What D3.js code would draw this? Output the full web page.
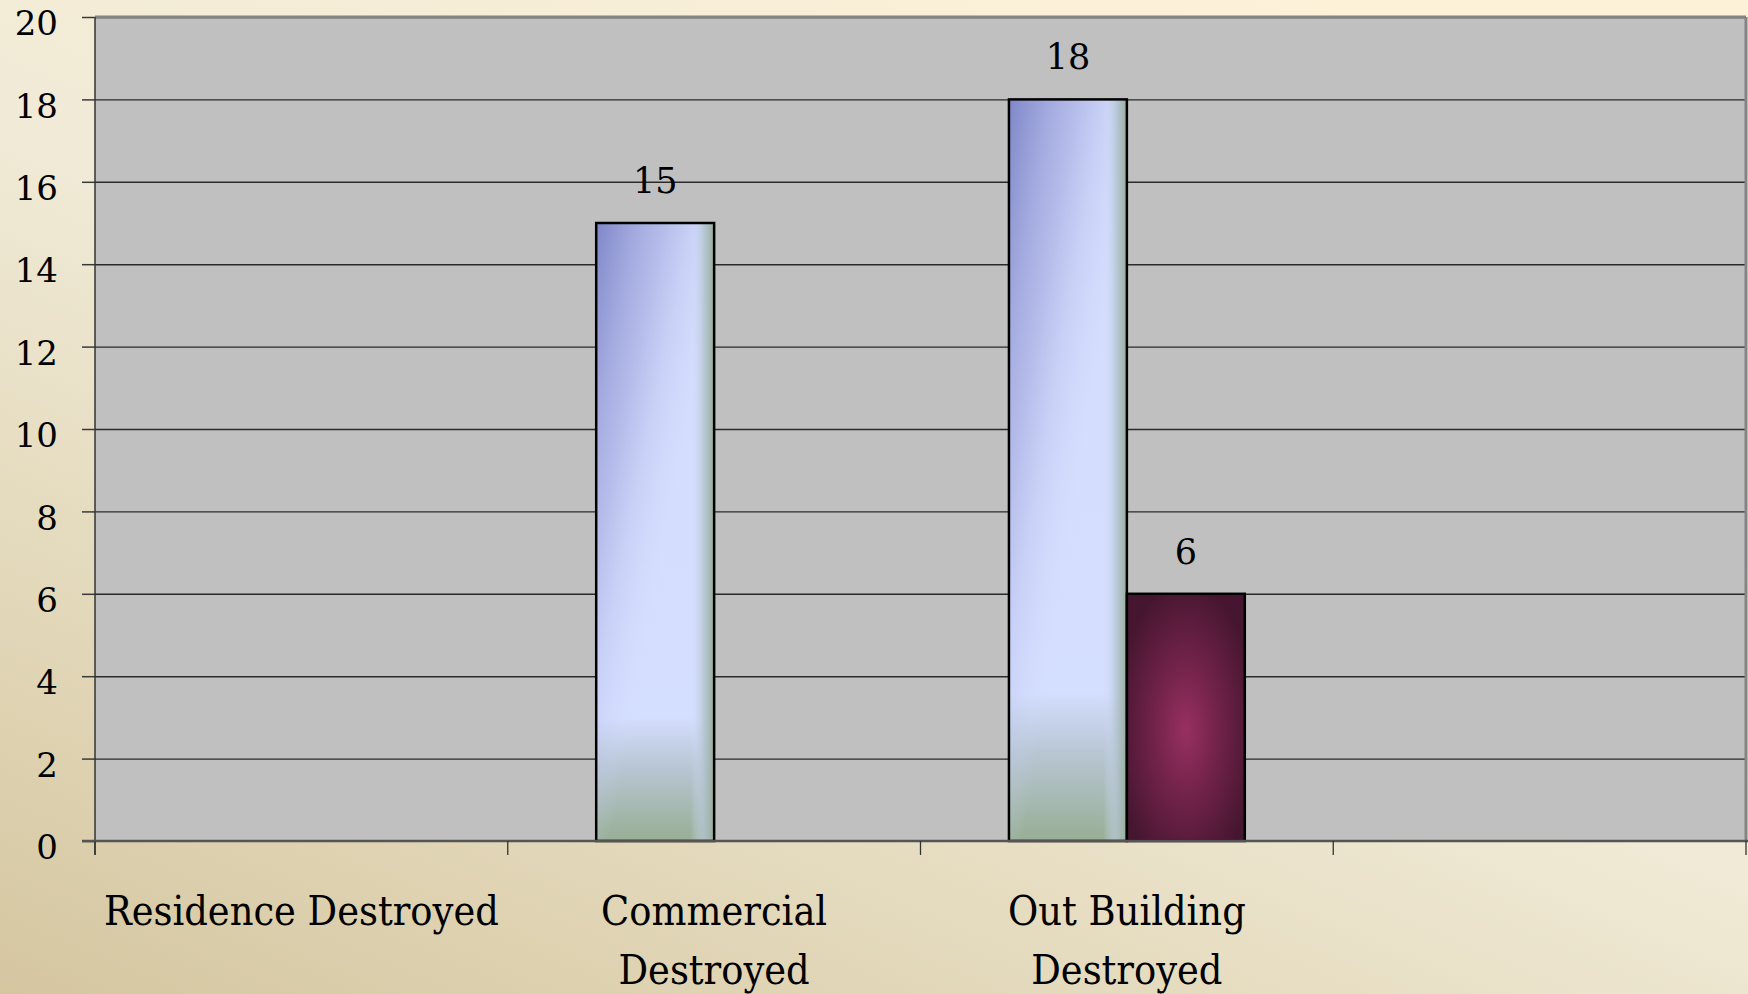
<!DOCTYPE html>
<html>
<head>
<meta charset="utf-8">
<script src="https://cdn.jsdelivr.net/npm/d3@7"></script>
<style>
  body { margin: 0; padding: 0; overflow: hidden; }
  svg { display: block; }
  .cat-label { font-family: "DejaVu Serif"; font-stretch: condensed; font-size: 41px; fill: #000; }
  .y-label { font-family: "DejaVu Serif"; font-size: 34px; fill: #000; }
  .val-label { font-family: "DejaVu Serif"; font-size: 35px; fill: #000; }
</style>
</head>
<body>
<div id="chart"></div>
<script>
(function(){

// Data

let categories = ['Residence Destroyed', 'Commercial Destroyed', 'Out Building Destroyed', '']
let seriesNames = ['Series 1', 'Series 2']
let series1 = [null, 15, 18, null]
let series2 = [null, null, 6, null]
let yTicks = [0, 2, 4, 6, 8, 10, 12, 14, 16, 18, 20]

let margin = { top: 17, left: 95, right: 2, bottom: 153 }
let totalWidth = 1748
let totalHeight = 994
let width = totalWidth - margin.left - margin.right
let height = totalHeight - margin.top - margin.bottom

let svg = d3.select('#chart')
  .append('svg')
  .attr('width', totalWidth)
  .attr('height', totalHeight)

let defs = svg.append('defs')

// Background gradient: dark tan in bottom-left, pale cream top-right
let bg = defs.append('linearGradient')
  .attr('id', 'bg')
  .attr('x1', 0).attr('y1', 1).attr('x2', 0.75).attr('y2', 0)
bg.append('stop').attr('offset', '0%').attr('stop-color', '#d5c6a0')
bg.append('stop').attr('offset', '30%').attr('stop-color', '#e4dabd')
bg.append('stop').attr('offset', '55%').attr('stop-color', '#f0ead6')
bg.append('stop').attr('offset', '100%').attr('stop-color', '#fdf1d8')

// Blue bar: light body, green fade at the bottom
let blueBase = defs.append('linearGradient')
  .attr('id', 'blueBase')
  .attr('x1', 0).attr('y1', 0).attr('x2', 0).attr('y2', 1)
blueBase.append('stop').attr('offset', '0%').attr('stop-color', '#d4ddfd')
blueBase.append('stop').attr('offset', '80%').attr('stop-color', '#d4defe')
blueBase.append('stop').attr('offset', '88%').attr('stop-color', '#b8c6d4')
blueBase.append('stop').attr('offset', '100%').attr('stop-color', '#98ae94')

// darker violet in top-left corner
let blueShade = defs.append('linearGradient')
  .attr('id', 'blueShade')
  .attr('x1', 0).attr('y1', 0).attr('x2', 0.55).attr('y2', 0.6)
blueShade.append('stop').attr('offset', '0%').attr('stop-color', '#7e86c8').attr('stop-opacity', 1)
blueShade.append('stop').attr('offset', '50%').attr('stop-color', '#a4aae0').attr('stop-opacity', 0.6)
blueShade.append('stop').attr('offset', '100%').attr('stop-color', '#d4defe').attr('stop-opacity', 0)

// greenish right edge
let blueEdge = defs.append('linearGradient')
  .attr('id', 'blueEdge')
  .attr('x1', 0).attr('y1', 0).attr('x2', 1).attr('y2', 0)
blueEdge.append('stop').attr('offset', '0%').attr('stop-color', '#d4defe').attr('stop-opacity', 0)
blueEdge.append('stop').attr('offset', '80%').attr('stop-color', '#d4defe').attr('stop-opacity', 0)
blueEdge.append('stop').attr('offset', '91%').attr('stop-color', '#b4c4d0').attr('stop-opacity', 0.8)
blueEdge.append('stop').attr('offset', '100%').attr('stop-color', '#96ac98').attr('stop-opacity', 1)

// Maroon bar: glowing centre
let maroon = defs.append('radialGradient')
  .attr('id', 'maroon')
  .attr('cx', 0.5).attr('cy', 0.55).attr('r', 0.6)
maroon.append('stop').attr('offset', '0%').attr('stop-color', '#983062')
maroon.append('stop').attr('offset', '40%').attr('stop-color', '#76244c')
maroon.append('stop').attr('offset', '100%').attr('stop-color', '#461630')

svg.append('rect')
  .attr('width', totalWidth)
  .attr('height', totalHeight)
  .attr('fill', 'url(#bg)')

let g = svg.append('g')
  .attr('transform', 'translate(' + margin.left + ',' + margin.top + ')')

// Scales

let xScale = d3.scaleBand().domain(d3.range(categories.length)).range([0, width]).padding(0)
let xInner = d3.scaleBand().domain(seriesNames).range([0, xScale.bandwidth()]).paddingInner(0).paddingOuter(0.75)
let yScale = d3.scaleLinear().domain([0, 20]).range([height, 0])

// Plot area

g.append('rect')
  .attr('width', width)
  .attr('height', height)
  .attr('fill', '#c0c0c0')

// Gridlines
let grid = g.append('g')
  .attr('class', 'grid')
  .call(d3.axisLeft(yScale).tickValues(yTicks.slice(1)).tickSize(-width).tickFormat(''))
grid.select('.domain').remove()
grid.selectAll('line').attr('stroke', '#2a2a2a').attr('stroke-width', 1.4)

// frame top + right
g.append('line')
  .attr('x1', 0).attr('x2', width).attr('y1', 0).attr('y2', 0)
  .attr('stroke', '#848484').attr('stroke-width', 3)
g.append('line')
  .attr('x1', width).attr('x2', width).attr('y1', 0).attr('y2', height)
  .attr('stroke', '#848484').attr('stroke-width', 3)

// Bars

let rows = categories.map(function(c, i) {
  return [
    { cat: i, name: seriesNames[0], value: series1[i] },
    { cat: i, name: seriesNames[1], value: series2[i] }
  ]
})
let bars = d3.merge(rows).filter(function(d) { return d.value !== null })

let barG = g.selectAll('.bar')
  .data(bars)
  .enter().append('g')
  .attr('class', 'bar')
  .attr('transform', function(d) {
    return 'translate(' + (xScale(d.cat) + xInner(d.name)) + ',' + yScale(d.value) + ')'
  })

function barHeight(d) { return height - yScale(d.value) }

barG.filter(function(d) { return d.name === seriesNames[0] })
  .each(function(d) {
    let el = d3.select(this)
    let w = xInner.bandwidth()
    let h = barHeight(d)
    el.append('rect').attr('width', w).attr('height', h).attr('fill', 'url(#blueBase)')
    el.append('rect').attr('width', w).attr('height', h).attr('fill', 'url(#blueShade)')
    el.append('rect').attr('width', w).attr('height', h).attr('fill', 'url(#blueEdge)')
  })

barG.filter(function(d) { return d.name === seriesNames[1] })
  .append('rect')
  .attr('width', xInner.bandwidth())
  .attr('height', barHeight)
  .attr('fill', 'url(#maroon)')

barG.append('rect')
  .attr('width', xInner.bandwidth())
  .attr('height', barHeight)
  .attr('fill', 'none')
  .attr('stroke', '#000')
  .attr('stroke-width', 2.5)

// value labels
g.selectAll('.val-label')
  .data(bars)
  .enter().append('text')
  .attr('class', 'val-label')
  .attr('x', function(d) { return xScale(d.cat) + xInner(d.name) + xInner.bandwidth() / 2 })
  .attr('y', function(d) { return yScale(d.value) - 30 })
  .attr('text-anchor', 'middle')
  .text(function(d) { return d.value })

// Axes

let yAxis = d3.axisLeft(yScale).tickValues(yTicks).tickSize(13).tickPadding(24)
let yAxisG = g.append('g')
  .attr('class', 'axis y-axis')
  .call(yAxis)
yAxisG.select('.domain').remove()
yAxisG.selectAll('line').attr('stroke', '#3a3a3a').attr('stroke-width', 1.5)
yAxisG.selectAll('text')
  .attr('class', 'y-label')
  .attr('dy', '0.52em')
yAxisG.attr('font-family', null).attr('font-size', null)

// left axis line
g.append('line')
  .attr('x1', 0).attr('x2', 0).attr('y1', 0).attr('y2', height + 14)
  .attr('stroke', '#333').attr('stroke-width', 1.5)

// bottom axis line
g.append('line')
  .attr('x1', -13).attr('x2', width + margin.right).attr('y1', height).attr('y2', height)
  .attr('stroke', '#555').attr('stroke-width', 2.5)

// category boundary ticks
let bounds = d3.range(categories.length + 1).map(function(i) {
  return i < categories.length ? xScale(i) : width
})
g.selectAll('.x-tick')
  .data(bounds)
  .enter().append('line')
  .attr('class', 'x-tick')
  .attr('x1', function(d) { return d }).attr('x2', function(d) { return d })
  .attr('y1', height).attr('y2', height + 14)
  .attr('stroke', '#333').attr('stroke-width', 1.3)

// category labels, wrapped to the band width
let catText = g.selectAll('.cat-label')
  .data(categories)
  .enter().append('text')
  .attr('class', 'cat-label')
  .attr('text-anchor', 'middle')
  .attr('x', function(d, i) { return xScale(i) + xScale.bandwidth() / 2 })
  .attr('y', height + 84)

catText.each(function(d, i) {
  let text = d3.select(this)
  let words = d.split(' ')
  let lines = []
  let line = []
  let probe = text.append('tspan')
  words.forEach(function(word) {
    let test = line.concat([word]).join(' ')
    probe.text(test)
    if (probe.node().getComputedTextLength() > xScale.bandwidth() && line.length) {
      lines.push(line.join(' '))
      line = [word]
    } else {
      line.push(word)
    }
  })
  if (line.length) lines.push(line.join(' '))
  probe.remove()
  lines.forEach(function(l, k) {
    text.append('tspan')
      .attr('x', xScale(i) + xScale.bandwidth() / 2)
      .attr('dy', k === 0 ? 0 : 59)
      .text(l)
  })
})

})()
</script>
</body>
</html>
